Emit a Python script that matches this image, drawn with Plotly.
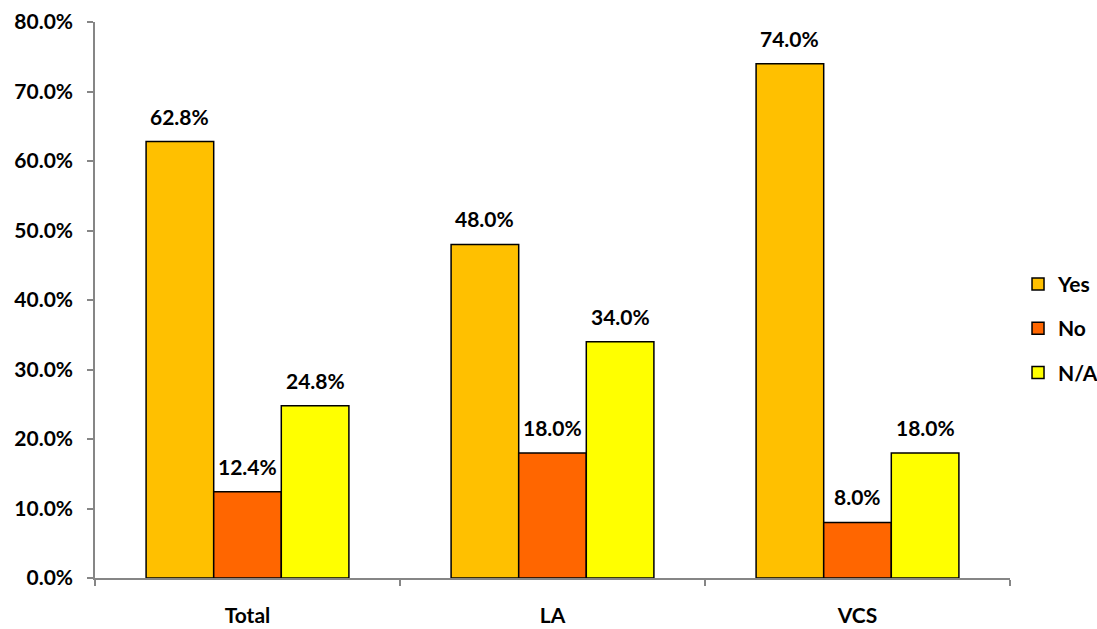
import plotly.graph_objects as go

categories = ["Total", "LA", "VCS"]
series_names = ["Yes", "No", "N/A"]
yes_vals = [62.8, 48.0, 74.0]
no_vals = [12.4, 18.0, 8.0]
na_vals = [24.8, 34.0, 18.0]
colors = ["#FFC000", "#FF6600", "#FFFF00"]

FONT = "Lato"
FS = 21
BARGAP = 0.335

fig = go.Figure()
all_vals = [yes_vals, no_vals, na_vals]
for name, vals, col in zip(series_names, all_vals, colors):
    fig.add_trace(go.Bar(
        name=name, x=categories, y=vals,
        marker=dict(color=col, line=dict(color="#000000", width=1.5)),
        legendgroup=name,
    ))

# value labels above each bar
n = len(series_names)
w = (1 - BARGAP) / n
for j, vals in enumerate(all_vals):
    for i, v in enumerate(vals):
        fig.add_annotation(
            x=i + (j - (n - 1) / 2) * w, y=v, xref="x", yref="y",
            text=f"<b>{v:.1f}%</b>", showarrow=False,
            yanchor="bottom", yshift=11,
            font=dict(family=FONT, size=FS, color="#000000"),
        )

fig.update_layout(
    width=1097, height=629,
    margin=dict(l=95, r=87, t=22, b=51, autoexpand=False),
    plot_bgcolor="white", paper_bgcolor="white",
    barmode="group", bargap=BARGAP, bargroupgap=0,
    font=dict(family=FONT, size=FS, color="#000000"),
    legend=dict(
        xref="container", yref="container", x=0.928, y=0.478,
        xanchor="left", yanchor="middle",
        font=dict(family=FONT, size=FS, color="#000000", weight="bold"),
        tracegroupgap=14, bgcolor="rgba(0,0,0,0)",
    ),
    xaxis=dict(
        type="category", tickson="boundaries", ticks="outside", ticklen=6,
        tickcolor="#868686", tickwidth=1.5,
        showline=True, linecolor="#868686", linewidth=1.5,
        showgrid=False, tickfont=dict(family=FONT, size=FS, weight="bold"),
        ticklabelstandoff=18, automargin=False,
        range=[-0.5, 2.5],
    ),
    yaxis=dict(
        range=[0, 80], dtick=10, tickformat=".1f", ticksuffix="%",
        ticks="outside", ticklen=6, tickcolor="#868686", tickwidth=1.5,
        showline=True, linecolor="#868686", linewidth=1.5,
        showgrid=False, zeroline=False,
        ticklabelstandoff=10, automargin=False,
        tickfont=dict(family=FONT, size=FS, weight="bold"),
    ),
)

fig.write_html("out.html")
